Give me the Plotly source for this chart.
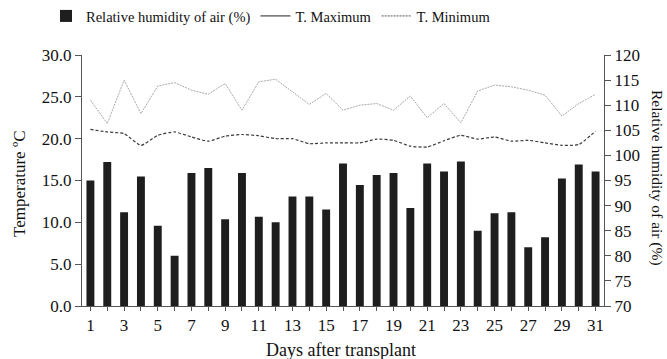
import plotly.graph_objects as go

days = list(range(1, 32))
humidity = [95.0, 98.7, 88.7, 95.8, 86.0, 80.0, 96.5, 97.5, 87.3, 96.5,
            87.8, 86.7, 91.8, 91.8, 89.2, 98.4, 94.1, 96.1, 96.5, 89.5,
            98.4, 96.8, 98.8, 85.0, 88.5, 88.7, 81.7, 83.7, 95.4, 98.2, 96.8]
t_max = [24.6, 21.8, 27.0, 23.0, 26.3, 26.7, 25.8, 25.3, 26.6, 23.4,
         26.8, 27.1, 25.6, 24.1, 25.4, 23.4, 24.0, 24.2, 23.4, 25.1,
         22.5, 24.2, 21.9, 25.7, 26.4, 26.2, 25.8, 25.2, 22.7, 24.2, 25.3]
t_min = [21.1, 20.8, 20.6, 19.2, 20.4, 20.8, 20.2, 19.7, 20.3, 20.5,
         20.35, 20.0, 20.0, 19.4, 19.5, 19.5, 19.5, 19.95, 19.8, 19.1,
         19.0, 19.75, 20.4, 19.95, 20.2, 19.7, 19.8, 19.5, 19.2, 19.3, 20.9]
tick_text = [str(d) if d % 2 == 1 else "" for d in days]

FONT = "Liberation Serif, Times New Roman, serif"

fig = go.Figure()

fig.add_trace(go.Bar(x=days, y=humidity, yaxis="y2", width=0.47,
                     marker=dict(color="#1e1e1e", line=dict(width=0)),
                     name="Relative humidity of air (%)", showlegend=True))
fig.add_trace(go.Scatter(x=days, y=t_max, mode="lines",
                         line=dict(color="#a8a8a8", width=1, dash="2px,1px"),
                         showlegend=False, name="T. Maximum"))
fig.add_trace(go.Scatter(x=days, y=t_min, mode="lines",
                         line=dict(color="#3a3a3a", width=1.2, dash="3px,2px", shape="spline", smoothing=0.5),
                         showlegend=False, name="T. Minimum"))
# legend entries styled as in the original key
fig.add_trace(go.Scatter(x=[None], y=[None], mode="lines",
                         line=dict(color="#222", width=1), name="T. Maximum"))
fig.add_trace(go.Scatter(x=[None], y=[None], mode="lines",
                         line=dict(color="#555", width=1, dash="2px,1px"), name="T. Minimum"))

fig.update_layout(
    width=667, height=359,
    margin=dict(l=82, r=63, t=55, b=53),
    plot_bgcolor="white", paper_bgcolor="white",
    font=dict(family=FONT, size=17, color="#111"),
    legend=dict(orientation="h", x=46 / 667, xref="container", xanchor="left",
                y=1, yref="container", yanchor="top", font=dict(size=14.5), itemwidth=30,
                tracegroupgap=0, traceorder="normal"),
    xaxis=dict(range=[0.5, 31.5], tickmode="array", tickvals=days, ticktext=tick_text,
               showgrid=False, zeroline=False, showline=True, linecolor="#555", linewidth=1,
               ticks="outside", ticklen=4, tickcolor="#555", tickfont=dict(size=17)),
    yaxis=dict(range=[0, 30], dtick=5, tickformat=".1f", showgrid=False, zeroline=False,
               showline=True, linecolor="#555", linewidth=1, ticks="outside", ticklen=6,
               tickcolor="#555", tickfont=dict(size=17)),
    yaxis2=dict(range=[70, 120], dtick=5, overlaying="y", side="right", showgrid=False,
                zeroline=False, showline=True, linecolor="#555", linewidth=1,
                ticks="outside", ticklen=6, tickcolor="#555", tickfont=dict(size=17)),
)

fig.add_annotation(text="Days after transplant", xref="paper", yref="paper",
                   x=0.496, y=0, yshift=-44, yanchor="middle",
                   showarrow=False, font=dict(size=18, family=FONT))
fig.add_annotation(text="Temperature ºC", textangle=-90,
                   xref="paper", yref="paper", x=0, xshift=-63, y=0.486,
                   xanchor="center", yanchor="middle",
                   showarrow=False, font=dict(size=17, family=FONT))
fig.add_annotation(text="Relative humidity of air (%)", textangle=90,
                   xref="paper", yref="paper", x=1.0, xshift=53, y=0.51,
                   xanchor="center", yanchor="middle",
                   showarrow=False, font=dict(size=15.5, family=FONT))

fig.write_html("out.html")
